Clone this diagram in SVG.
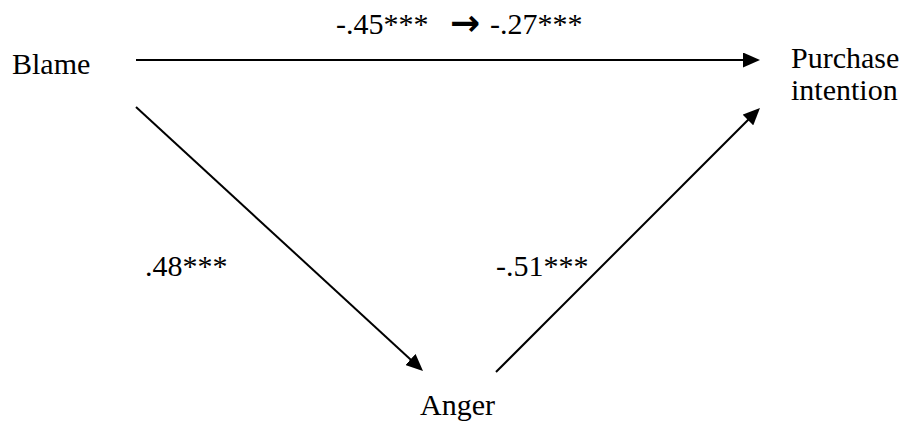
<svg xmlns="http://www.w3.org/2000/svg" width="911" height="423" viewBox="0 0 911 423">
  <style>
    .t { font-family: "Liberation Serif", "Times New Roman", serif; font-size: 30px; fill: #000; }
    .c { stroke: #000; stroke-width: 2; fill: none; }
  </style>
  <defs>
    <marker id="ah" markerUnits="userSpaceOnUse" markerWidth="17" markerHeight="15" refX="6" refY="7.5" orient="auto">
      <path d="M0,0 L17,7.5 L0,15 z" fill="#000"/>
    </marker>
  </defs>
  <rect width="911" height="423" fill="#fff"/>
  <g id="blame"><text class="t" x="12" y="74">Blame</text></g>
  <g id="purchase">
    <text class="t" x="791" y="68">Purchase</text>
    <text class="t" x="791" y="100">intention</text>
  </g>
  <g id="anger"><text class="t" x="420" y="415">Anger</text></g>
  <g id="connectors">
    <line class="c" x1="136" y1="60" x2="749" y2="60" marker-end="url(#ah)"/>
    <line class="c" x1="136" y1="107" x2="414.9" y2="363.5" marker-end="url(#ah)"/>
    <line class="c" x1="496" y1="372" x2="752.2" y2="115.8" marker-end="url(#ah)"/>
  </g>
  <g id="labels">
    <text class="t" x="336" y="34">-.45***</text>
    <text x="450" y="35" style="font-family:'DejaVu Sans',sans-serif;font-size:36px;font-weight:bold;fill:#000">→</text>
    <text class="t" x="490" y="34">-.27***</text>
    <text class="t" x="145" y="276">.48***</text>
    <text class="t" x="496" y="276">-.51***</text>
  </g>
</svg>
